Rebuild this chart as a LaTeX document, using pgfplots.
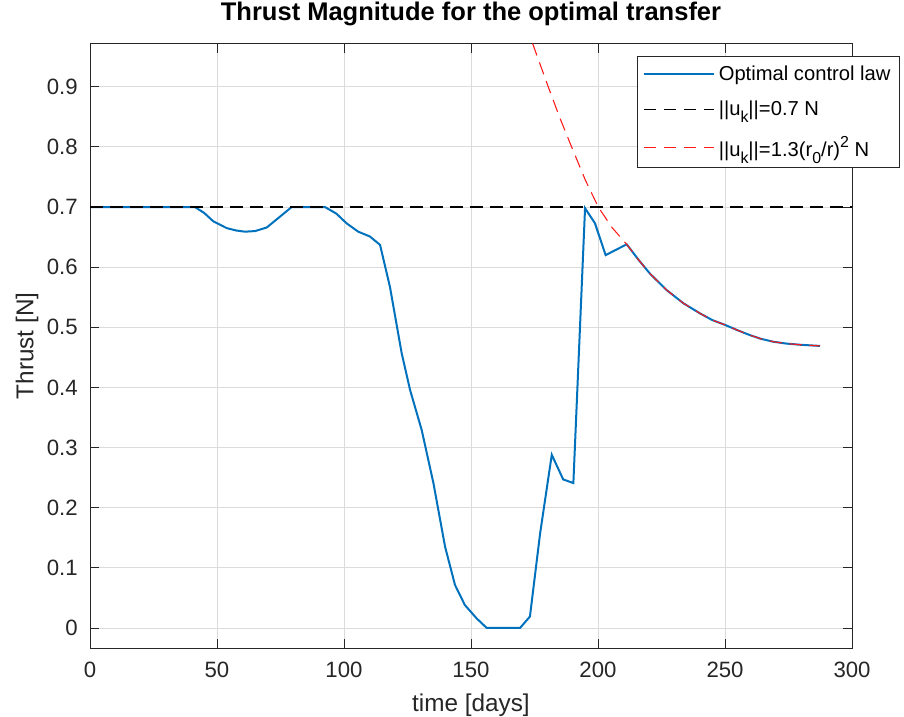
\documentclass[border=0pt]{standalone}
\usepackage{pgfplots}
\pgfplotsset{compat=1.18}
\usepackage{fontspec}
\setmainfont{Liberation Sans}
\definecolor{mblue}{rgb}{0,0.447,0.741}
\definecolor{axgray}{rgb}{0.15,0.15,0.15}
\newcommand{\sub}[1]{\raisebox{-0.6ex}{\fontsize{12}{12}\selectfont #1}}
\newcommand{\sups}[1]{\raisebox{0.85ex}{\fontsize{12}{12}\selectfont #1}}
\begin{document}
\begin{tikzpicture}
\begin{axis}[
  scale only axis,
  width=571.5bp, height=453bp,
  xmin=0, xmax=300, ymin=-0.0333, ymax=0.9711,
  xtick={0,50,100,150,200,250,300},
  ytick={0,0.1,0.2,0.3,0.4,0.5,0.6,0.7,0.8,0.9},
  /pgf/number format/assume math mode=true,
  yticklabel style={/pgf/number format/fixed,/pgf/number format/precision=1,
     font=\fontsize{16.7}{18}\selectfont, inner sep=0pt, anchor=east, xshift=-9bp, text=axgray},
  xticklabel style={font=\fontsize{16.7}{18}\selectfont, inner sep=0pt, anchor=north, yshift=-10.5bp, text=axgray},
  tick pos=both, tick align=inside, major tick length=6.5bp,
  every tick/.style={axgray, line width=0.6bp},
  axis line style={axgray, line width=0.75bp},
  grid=major,
  major grid style={black!14, line width=0.6bp},
  title={\bfseries Thrust Magnitude for the optimal transfer},
  title style={font=\fontsize{19.2}{22}\selectfont, at={(axis description cs:0.5,1.0364)}, anchor=center, inner sep=0pt},
  xlabel={time [days]},
  xlabel style={font=\fontsize{18.3}{21}\selectfont, at={(axis description cs:0.5,-0.0944)}, anchor=center, inner sep=0pt, text=axgray},
  ylabel={Thrust [N]},
  ylabel style={font=\fontsize{18.3}{21}\selectfont, at={(axis description cs:-0.0827,0.5)}, anchor=center, inner sep=0pt, text=axgray},
  legend style={at={(axis description cs:0.7178,0.9801)}, anchor=north west,
     draw=axgray, line width=0.75bp, fill=white,
     font=\fontsize{15.2}{17}\selectfont, inner xsep=4bp, inner ysep=4bp,
     nodes={inner xsep=3bp, inner ysep=3bp}, row sep=8bp},
  legend cell align=left,
  legend image code/.code={\draw[#1] (0bp,0bp) -- (52.5bp,0bp);},
]
\addplot[mblue, line width=1.5bp] coordinates {
(0,0.7) (41.3,0.7) (45,0.69) (48.6,0.676) (53.8,0.665) (57.5,0.661) (61,0.659) (65,0.660)
(69.6,0.666) (74.8,0.684) (79.4,0.7) (92.5,0.7) (97,0.689) (101,0.673) (105.6,0.659)
(110.2,0.651) (114.2,0.637) (118.1,0.567) (122.7,0.457) (126,0.396) (130.6,0.329)
(135.2,0.241) (139.8,0.135) (143.7,0.0715) (147.6,0.038) (152.2,0.016) (156.2,0)
(169.3,0) (173.2,0.019) (177.2,0.157) (181.8,0.288) (186.3,0.247) (190.3,0.241)
(194.9,0.698) (198.8,0.673) (203.0,0.620) (211.3,0.638) (216,0.612) (220.5,0.589)
(227,0.562) (233.6,0.540) (240.2,0.523) (245,0.512) (250,0.504) (255,0.495)
(259.8,0.487) (264,0.481) (269,0.476) (274,0.473) (279.5,0.471) (287.4,0.469)
};
\addlegendentry{Optimal control law}
\addplot[black, line width=1bp, dash pattern=on 9.5bp off 5.5bp] coordinates {(0,0.7) (300,0.7)};
\addlegendentry{||u\sub{k}||=0.7 N}
\addplot[red!90!white, line width=0.8bp, dash pattern=on 9.5bp off 5.5bp] coordinates {
(171.5,1.003) (174.5,0.969) (180.4,0.9) (185,0.848) (189.6,0.8) (195,0.745) (200.1,0.7)
(205.5,0.666) (211.3,0.638) (216,0.612) (220.5,0.589)
(227,0.562) (233.6,0.540) (240.2,0.523) (245,0.512) (250,0.504) (255,0.495)
(259.8,0.487) (264,0.481) (269,0.476) (274,0.473) (279.5,0.471) (287.4,0.469)
};
\addlegendentry{||u\sub{k}||=1.3(r\sub{0}/r)\sups{2} N}
\end{axis}
\pgfresetboundingbox
\path[use as bounding box] (-67.5bp,-51.75bp) rectangle (610.5bp,486bp);
\end{tikzpicture}
\end{document}
